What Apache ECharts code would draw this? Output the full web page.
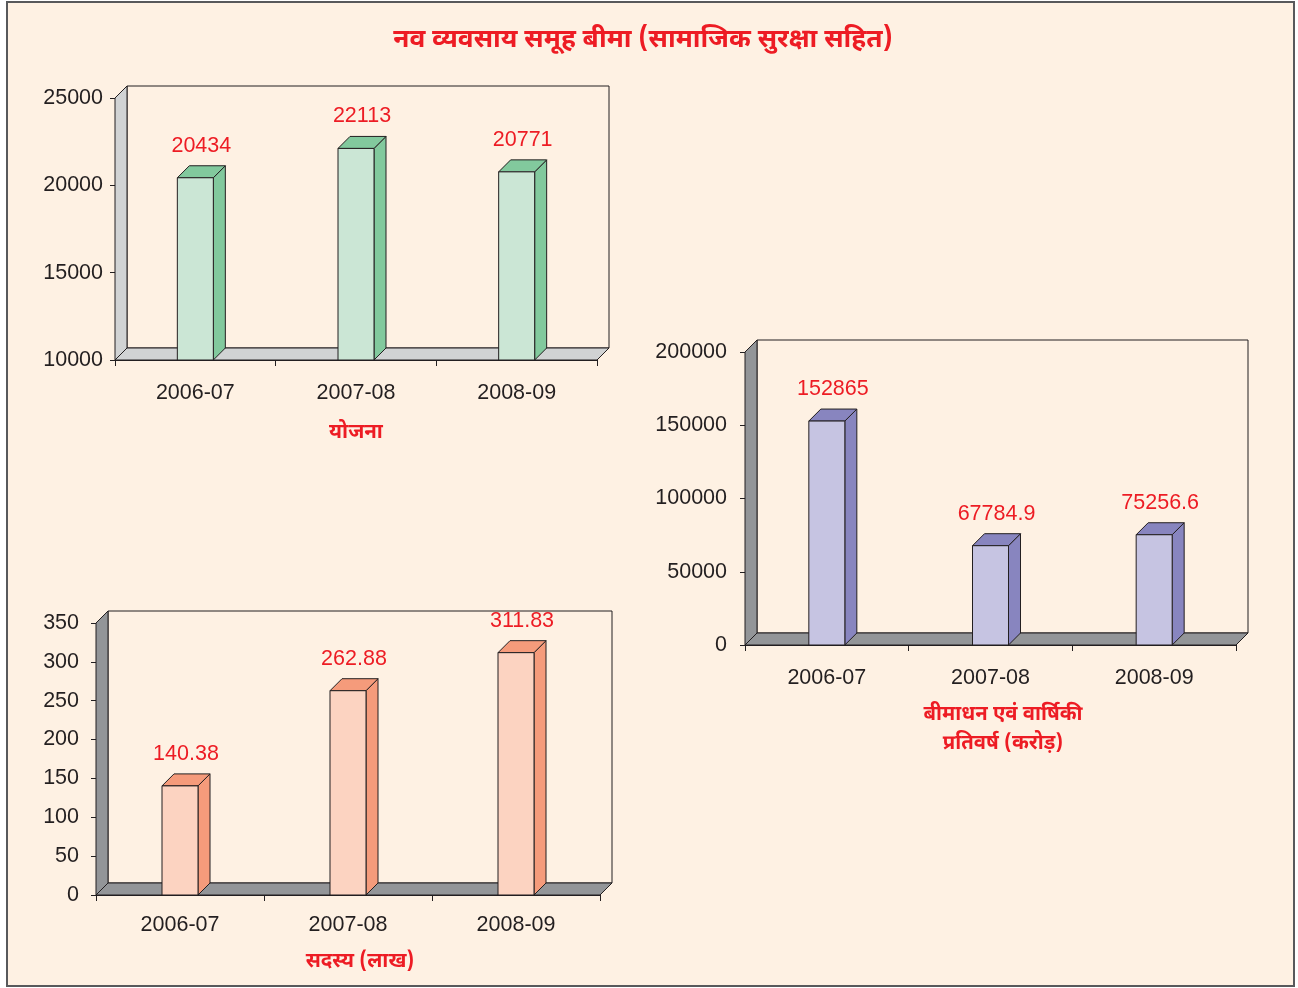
<!DOCTYPE html>
<html>
<head>
<meta charset="utf-8">
<script src="https://cdn.jsdelivr.net/npm/echarts@6/dist/echarts.min.js"></script>
<style>
html,body{margin:0;padding:0;background:#ffffff;}
#main{width:1298px;height:988px;}
</style>
</head>
<body>
<div id="main"></div>
<script>
// ---- data ----
var categories = ['2006-07', '2007-08', '2008-09'];
var schemeValues = [20434, 22113, 20771];          // योजना
var sumAssuredValues = [152865, 67784.9, 75256.6]; // बीमाधन एवं वार्षिकी प्रतिवर्ष (करोड़)
var memberValues = [140.38, 262.88, 311.83];       // सदस्य (लाख)
var chartTitle = 'नव व्यवसाय समूह बीमा (सामाजिक सुरक्षा सहित)';
var axisNames = ['योजना', 'बीमाधन एवं वार्षिकी\nप्रतिवर्ष (करोड़)', 'सदस्य (लाख)'];

var DEV = "'Noto Sans Devanagari','Lohit Devanagari','Mukta','Noto Sans',sans-serif";
var NUM = "'Liberation Sans',Arial,Helvetica,sans-serif";
var RED = '#ed1c24';
var INK = '#231f20';
var DX = 12, DY = -12, BW = 36;
var FS = 21.5;

var panels = [
  {grid:{left:115, top:98, width:482, height:262}, min:10000, max:25000, interval:5000,
   data:schemeValues, front:'#cbe6d5', side:'#82c99d', wall:'#d1d3d4', xMargin:22, yMargin:12},
  {grid:{left:745, top:352, width:491, height:293}, min:0, max:200000, interval:50000,
   data:sumAssuredValues, front:'#c6c4e2', side:'#8885bf', wall:'#939598', xMargin:22, yMargin:18},
  {grid:{left:96, top:623, width:504, height:272}, min:0, max:350, interval:50,
   data:memberValues, front:'#fcd3c1', side:'#f59b7b', wall:'#939598', xMargin:19, yMargin:17}
];

function wallsRender(wallColor) {
  return function (params, api) {
    var cs = params.coordSys;
    var x0 = cs.x, x1 = cs.x + cs.width, yT = cs.y, yB = cs.y + cs.height;
    var st = {stroke: INK, lineWidth: 1};
    return {type:'group', children:[
      {type:'polygon', shape:{points:[[x0+DX,yT+DY],[x1+DX,yT+DY],[x1+DX,yB+DY],[x0+DX,yB+DY]]},
       style:{fill:'#fef1e3', stroke:INK, lineWidth:1}},
      {type:'polygon', shape:{points:[[x0,yB],[x0,yT],[x0+DX,yT+DY],[x0+DX,yB+DY]]},
       style:Object.assign({fill:wallColor}, st)},
      {type:'polygon', shape:{points:[[x0,yB],[x1,yB],[x1+DX,yB+DY],[x0+DX,yB+DY]]},
       style:Object.assign({fill:wallColor}, st)}
    ]};
  };
}

function barRender(p) {
  return function (params, api) {
    var idx = api.value(0), v = api.value(1);
    var top = api.coord([idx, v]);
    var base = api.coord([idx, p.min]);
    var cx = top[0], xl = cx - BW/2, xr = cx + BW/2, yt = top[1], yb = base[1];
    var st = {stroke: INK, lineWidth: 1};
    return {type:'group', children:[
      {type:'polygon', shape:{points:[[xr,yb],[xr,yt],[xr+DX,yt+DY],[xr+DX,yb+DY]]},
       style:Object.assign({fill:p.side}, st)},
      {type:'polygon', shape:{points:[[xl,yt],[xl+DX,yt+DY],[xr+DX,yt+DY],[xr,yt]]},
       style:Object.assign({fill:p.side}, st)},
      {type:'rect', shape:{x:xl, y:yt, width:BW, height:yb-yt},
       style:Object.assign({fill:p.front}, st)},
      {type:'text', x:cx + DX/2, y:yt + DY - 9,
       style:{text:String(p.data[params.dataIndex]), fill:RED, font:FS + 'px ' + NUM,
              textAlign:'center', textVerticalAlign:'bottom'}}
    ]};
  };
}

var grids = [], xAxes = [], yAxes = [], series = [];
panels.forEach(function (p, i) {
  grids.push(p.grid);
  xAxes.push({type:'category', gridIndex:i, data:categories,
    axisLine:{show:true, lineStyle:{color:INK, width:1}},
    axisTick:{show:true, length:6, lineStyle:{color:INK}},
    axisLabel:{color:INK, fontSize:FS, fontFamily:NUM, margin:p.xMargin}});
  yAxes.push({type:'value', gridIndex:i, min:p.min, max:p.max, interval:p.interval,
    axisLine:{show:true, lineStyle:{color:INK, width:1}},
    axisTick:{show:true, length:5, lineStyle:{color:INK}},
    splitLine:{show:false},
    axisLabel:{color:INK, fontSize:FS, fontFamily:NUM, margin:p.yMargin,
               formatter:function (v) { return String(v); }}});
  series.push({type:'custom', xAxisIndex:i, yAxisIndex:i, z:1, silent:true,
    renderItem:wallsRender(p.wall), data:[[0, p.min]]});
  series.push({type:'custom', xAxisIndex:i, yAxisIndex:i, z:3, silent:true,
    renderItem:barRender(p),
    data:p.data.map(function (v, k) { return [k, v]; })});
});

var chart = echarts.init(document.getElementById('main'), null, {renderer:'canvas'});
chart.setOption({
  backgroundColor:'#ffffff',
  animation:false,
  graphic:[
    {type:'rect', z:-10, shape:{x:7, y:2, width:1287, height:984},
     style:{fill:'#fef1e3', stroke:'#58595b', lineWidth:2}}
  ],
  title:[
    {text:chartTitle, left:643, top:29, padding:0, textAlign:'center',
     textStyle:{color:RED, fontSize:26.3, fontWeight:'bold', fontFamily:DEV}},
    {text:axisNames[0], left:356, top:424, padding:0, textAlign:'center',
     textStyle:{color:RED, fontSize:20.5, fontWeight:'bold', fontFamily:DEV}},
    {text:axisNames[1], left:1003, top:702, padding:0, textAlign:'center',
     textStyle:{color:RED, fontSize:20.3, fontWeight:'bold', fontFamily:DEV, lineHeight:29}},
    {text:axisNames[2], left:360, top:953, padding:0, textAlign:'center',
     textStyle:{color:RED, fontSize:20.5, fontWeight:'bold', fontFamily:DEV}}
  ],
  grid:grids,
  xAxis:xAxes,
  yAxis:yAxes,
  series:series
});
</script>
</body>
</html>
